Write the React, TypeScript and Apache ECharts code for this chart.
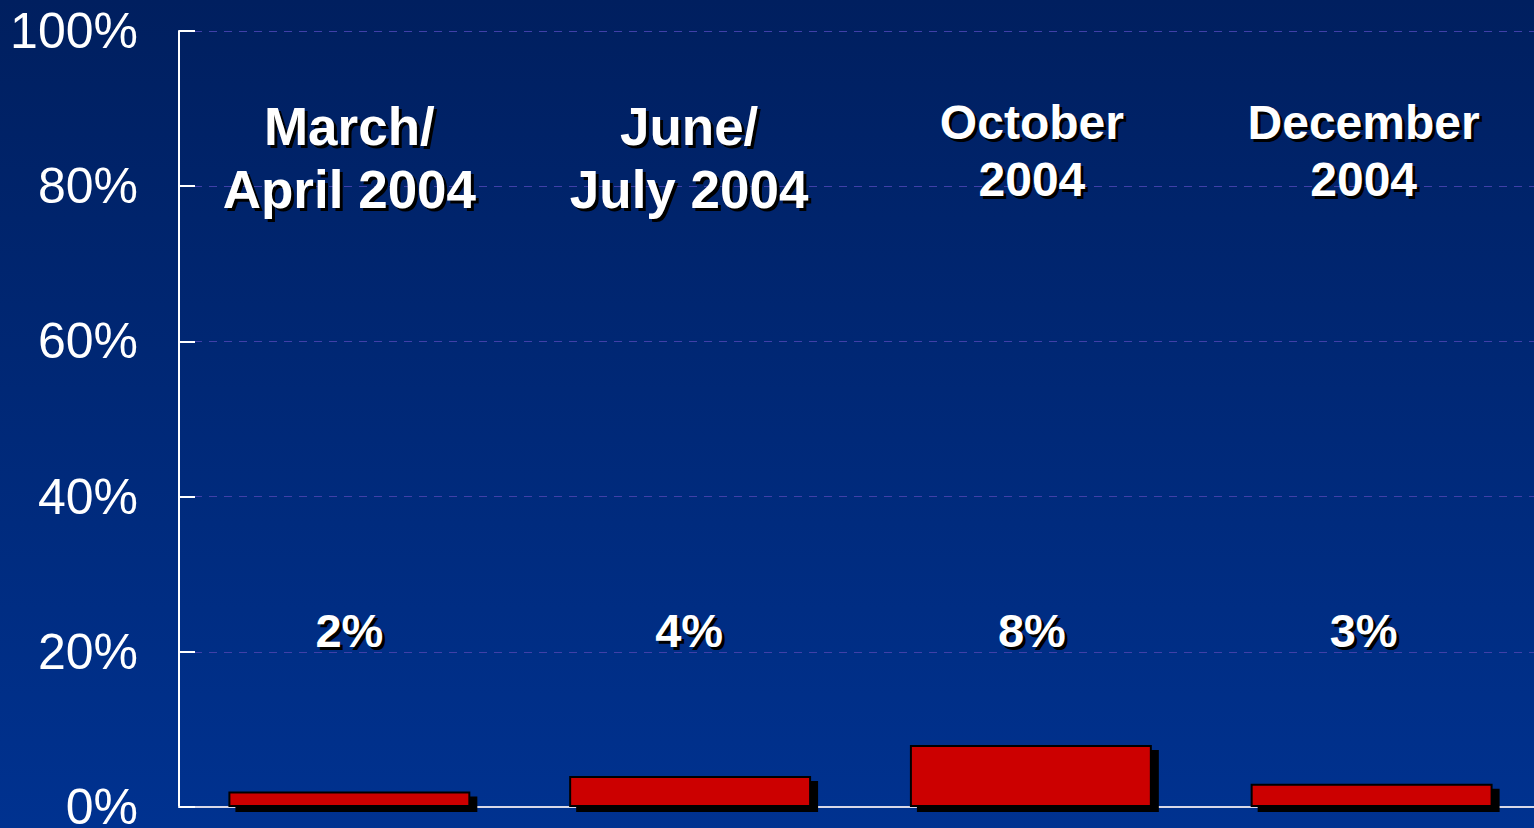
import React, { useEffect, useRef } from "react";
import * as echarts from "echarts";

const categories = ["March/\nApril 2004", "June/\nJuly 2004", "October\n2004", "December\n2004"];
const values = [2, 4, 8, 3];
const yTicks = [0, 20, 40, 60, 80, 100];

const FONT = "'Liberation Sans', Arial, sans-serif";
const CAT_LABEL_Y = 84;
const VAL_LABEL_Y = 22.8;
const catFontSizes = [53, 53, 48, 48];
const catLabelShift = [[0, 3], [-1, 3], [1, -4], [-8, -4]];
const valLabelShift = [[0, 0], [-1, 0], [1, 0], [-8, 0]];

export default function App() {
  const ref = useRef<HTMLDivElement>(null);
  useEffect(() => {
    if (!ref.current) return;
    const chart = echarts.init(ref.current, null, { renderer: "svg" });

    const labelSeries = (color: string, off: number[], z: number) => [
      {
        type: "scatter",
        symbolSize: 1,
        itemStyle: { color: "rgba(0,0,0,0)", opacity: 1 },
        silent: true,
        z,
        data: categories.map((c, i) => ({
          value: [i, CAT_LABEL_Y],
          label: {
            fontSize: catFontSizes[i],
            lineHeight: Math.round(catFontSizes[i] * 1.19),
            offset: [catLabelShift[i][0] + off[0], catLabelShift[i][1] + off[1]],
          },
        })),
        label: {
          show: true,
          position: "inside",
          formatter: (p: any) => categories[p.dataIndex],
          color,
          opacity: 1,
          fontWeight: "bold",
          fontFamily: FONT,
          align: "center",
          verticalAlign: "middle",
        },
      },
      {
        type: "scatter",
        symbolSize: 1,
        itemStyle: { color: "rgba(0,0,0,0)", opacity: 1 },
        silent: true,
        z,
        data: values.map((_, i) => ({
          value: [i, VAL_LABEL_Y],
          label: { offset: [valLabelShift[i][0] + off[0], valLabelShift[i][1] + off[1]] },
        })),
        label: {
          show: true,
          position: "inside",
          formatter: (p: any) => values[p.dataIndex] + "%",
          color,
          opacity: 1,
          fontWeight: "bold",
          fontSize: 47,
          fontFamily: FONT,
          align: "center",
          verticalAlign: "middle",
        },
      },
    ];

    chart.setOption({
      animation: false,
      backgroundColor: {
        type: "linear",
        x: 0, y: 0, x2: 0, y2: 1,
        colorStops: [
          { offset: 0, color: "#001f5f" },
          { offset: 1, color: "#003290" },
        ],
      },
      grid: {
        left: 179,
        top: 31,
        width: 1363,
        height: 776,
        containLabel: false,
        outerBoundsMode: "none",
      },
      xAxis: {
        type: "category",
        data: categories,
        axisLine: { show: true, lineStyle: { color: "#d8d8e8", width: 2 } },
        axisTick: { show: false },
        axisLabel: { show: false },
      },
      yAxis: {
        type: "value",
        min: yTicks[0],
        max: yTicks[yTicks.length - 1],
        interval: 20,
        axisLine: { show: true, lineStyle: { color: "#ffffff", width: 2 } },
        axisTick: { show: true, inside: true, length: 16, lineStyle: { color: "#ffffff", width: 2 } },
        axisLabel: {
          formatter: "{value}%",
          color: "#ffffff",
          fontSize: 50,
          fontFamily: FONT,
          margin: 41,
        },
        splitLine: { show: true, lineStyle: { color: "#4040a8", type: [8, 7], width: 1 } },
      },
      series: [
        {
          type: "bar",
          data: values,
          barCategoryGap: "29%",
          itemStyle: {
            color: "#cc0000",
            borderColor: "#000000",
            borderWidth: 2,
            shadowColor: "#000000",
            shadowOffsetX: 7,
            shadowOffsetY: 5,
            shadowBlur: 0,
          },
          z: 2,
        },
        ...labelSeries("#000000", [3, 3], 4),
        ...labelSeries("#ffffff", [0, 0], 5),
      ],
    });
    return () => chart.dispose();
  }, []);
  return (
    <div
      ref={ref}
      style={{ position: "absolute", left: 0, top: 0, width: 1534, height: 828 }}
    />
  );
}
